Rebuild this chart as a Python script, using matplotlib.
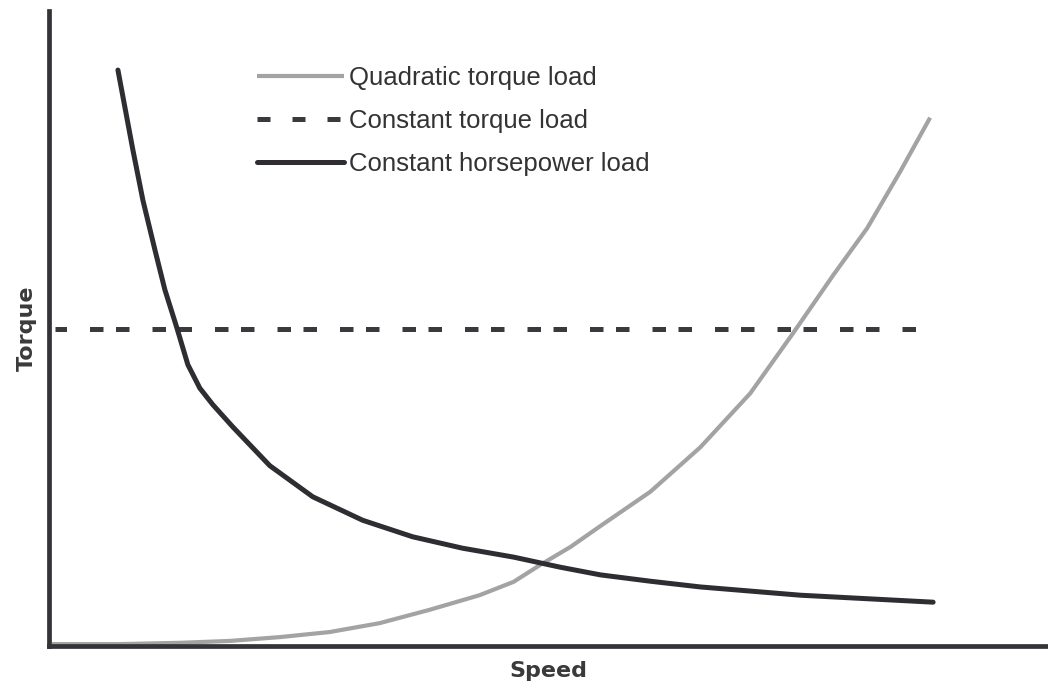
import matplotlib.pyplot as plt

# Dados (velocidade e torque em % da escala)
quad_speed = [0.3, 7.1, 13.1, 18.1, 23.1, 28.1, 33.1, 38.1, 43.1, 46.5, 49.2,
              52.2, 55.2, 60.2, 65.2, 70.2, 74.5, 78.5, 81.9, 85.2, 88.2]
quad_torque = [0.3, 0.3, 0.5, 0.8, 1.4, 2.2, 3.6, 5.7, 8.0, 10.1, 12.8,
               15.6, 18.9, 24.3, 31.3, 39.8, 49.3, 58.4, 65.8, 74.7, 83.2]

const_speed = [0.6, 86.8]
const_torque = [49.9, 49.9]

hp_speed = [6.9, 8.4, 9.4, 10.6, 11.6, 12.8, 13.9, 15.1, 16.4, 18.4, 20.4, 22.1,
            26.4, 31.4, 36.4, 41.4, 46.5, 51.2, 55.2, 60.2, 65.2, 75.2, 88.5]
hp_torque = [90.7, 78.1, 70.2, 62.4, 56.1, 50.1, 44.3, 40.6, 38.0, 34.5, 31.2, 28.4,
             23.5, 19.8, 17.2, 15.4, 14.0, 12.4, 11.2, 10.2, 9.3, 8.0, 6.9]

labels = ["Quadratic torque load", "Constant torque load", "Constant horsepower load"]

fig = plt.figure(figsize=(10.48, 6.87), dpi=100)
ax = fig.add_axes([49 / 1048, 41 / 687, 1 - 49 / 1048, 635 / 687])

ax.plot(quad_speed, quad_torque, color="#a3a3a3", lw=3.0, label=labels[0],
        solid_capstyle="butt", solid_joinstyle="round")
ax.plot(const_speed, const_torque, color="#3a3a3e", lw=3.6,
        linestyle=(5.6, (2.7, 2.5, 2.7, 4.6)), label=labels[1], dash_capstyle="butt")
ax.plot(hp_speed, hp_torque, color="#2f2d32", lw=3.6, label=labels[2],
        solid_capstyle="round", solid_joinstyle="round")

ax.set_xlim(0, 100)
ax.set_ylim(0, 100)
ax.set_xticks([])
ax.set_yticks([])
for side in ["top", "right"]:
    ax.spines[side].set_visible(False)
for side in ["left", "bottom"]:
    ax.spines[side].set_color("#333338")
    ax.spines[side].set_linewidth(3.4)

ax.set_xlabel("Speed", fontsize=16, fontweight="bold", color="#3a3a3a",
              family="DejaVu Sans", labelpad=11)
ax.set_ylabel("Torque", fontsize=16, fontweight="bold", color="#3a3a3a",
              family="DejaVu Sans", labelpad=8.5)

leg = ax.legend(loc="upper left", bbox_to_anchor=(257 / 1048, 1 - 66 / 687),
                bbox_transform=fig.transFigure, frameon=False,
                prop={"family": "Liberation Sans", "size": 18.5},
                handlelength=3.38, handletextpad=0.2, labelspacing=0.73,
                borderpad=0, borderaxespad=0)
for t in leg.get_texts():
    t.set_color("#333333")
leg.get_lines()[1].set_linestyle((0, (2.6, 4.4)))

fig.savefig("out.png", dpi=100)
